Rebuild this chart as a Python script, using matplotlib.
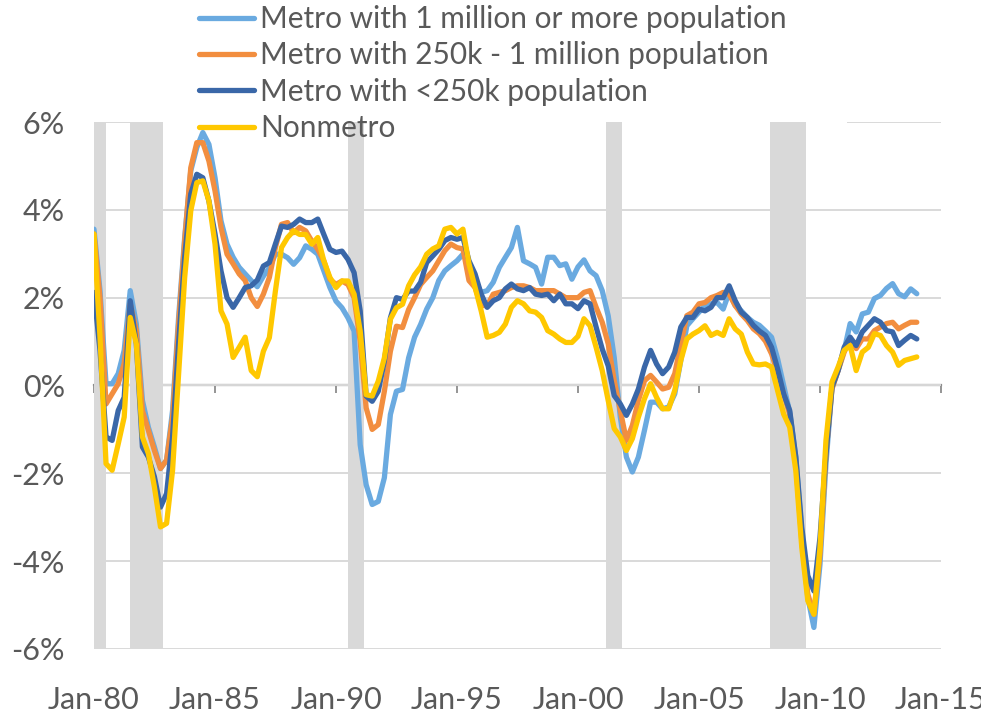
import numpy as np
import pandas as pd
import matplotlib
matplotlib.use('Agg')
import matplotlib.pyplot as plt
import matplotlib.dates as mdates
from matplotlib.patches import Rectangle
from matplotlib.ticker import FuncFormatter

# quarterly observations, Jan-1980 .. Jan-2014 (% change, year over year)
dates = pd.date_range('1980-01-01', '2014-01-01', freq='QS')

metro_large = [
    3.56, 2.16, 0.04, 0.04, 0.27, 0.8, 2.16, 1.4, -0.34, -0.95, -1.4, -1.89,
    -1.7, -0.57, 1.55, 3.37, 4.89, 5.42, 5.76, 5.49, 4.73, 3.75, 3.22, 2.92,
    2.69, 2.54, 2.39, 2.25, 2.49, 2.68, 2.99, 2.99, 2.91, 2.76, 2.91, 3.18,
    3.1, 2.99, 2.61, 2.23, 1.92, 1.77, 1.54, 1.24, -1.35, -2.26, -2.71, -2.64,
    -2.1, -0.66, -0.13, -0.09, 0.63, 1.1, 1.39, 1.74, 2.0, 2.39, 2.61, 2.73,
    2.84, 2.99, 2.77, 2.39, 2.12, 2.16, 2.35, 2.69, 2.92, 3.14, 3.6, 2.84,
    2.77, 2.69, 2.31, 2.92, 2.92, 2.73, 2.77, 2.42, 2.7, 2.86, 2.61, 2.5,
    2.16, 1.59, 0.64, -0.72, -1.63, -1.97, -1.63, -1.02, -0.38, -0.38, -0.53, -0.49,
    -0.19, 0.57, 1.36, 1.52, 1.67, 1.82, 1.86, 1.89, 1.74, 2.12, 1.82, 1.7,
    1.55, 1.44, 1.37, 1.24, 1.1, 0.61, 0.0, -0.61, -1.63, -3.38, -4.83, -5.51,
    -4.07, -1.79, -0.04, 0.34, 0.8, 1.41, 1.22, 1.63, 1.67, 1.98, 2.05, 2.21,
    2.32, 2.09, 2.02, 2.2, 2.09]

metro_mid = [
    3.45, 2.0, -0.42, -0.19, 0.04, 0.5, 1.86, 1.25, -0.57, -1.02, -1.48, -1.89,
    -1.7, -0.72, 1.4, 3.3, 4.96, 5.53, 5.53, 5.11, 4.43, 3.6, 2.99, 2.77,
    2.54, 2.39, 2.0, 1.8, 2.08, 2.46, 3.14, 3.67, 3.71, 3.48, 3.6, 3.52,
    3.29, 3.1, 2.84, 2.42, 2.3, 2.38, 2.3, 2.0, 1.01, -0.51, -1.0, -0.89,
    -0.13, 0.78, 1.35, 1.32, 1.73, 2.0, 2.3, 2.46, 2.61, 2.84, 3.07, 3.22,
    3.14, 3.11, 2.39, 2.23, 1.82, 1.82, 2.08, 2.12, 2.16, 2.23, 2.27, 2.27,
    2.23, 2.16, 2.16, 2.16, 2.16, 2.08, 2.0, 2.0, 2.0, 2.12, 2.16, 1.78,
    1.44, 0.95, 0.11, -0.57, -1.25, -0.91, -0.34, 0.11, 0.23, 0.08, -0.08, -0.04,
    0.27, 0.95, 1.59, 1.67, 1.86, 1.89, 2.0, 2.05, 2.12, 2.08, 1.82, 1.63,
    1.48, 1.29, 1.18, 1.01, 0.72, 0.3, -0.19, -0.65, -1.75, -3.54, -4.75, -5.21,
    -3.84, -1.56, -0.08, 0.34, 0.76, 1.06, 0.84, 1.06, 1.06, 1.25, 1.33, 1.41,
    1.44, 1.29, 1.37, 1.44, 1.44]

metro_small = [
    2.12, 0.8, -1.17, -1.25, -0.57, -0.27, 1.93, 0.95, -1.4, -1.63, -2.08, -2.77,
    -2.46, -1.17, 0.95, 2.92, 4.36, 4.81, 4.73, 4.2, 3.45, 2.61, 2.0, 1.78,
    2.0, 2.23, 2.27, 2.4, 2.72, 2.8, 3.22, 3.63, 3.6, 3.67, 3.79, 3.71,
    3.71, 3.79, 3.44, 3.1, 3.03, 3.06, 2.87, 2.57, 1.7, -0.24, -0.36, -0.13,
    0.56, 1.54, 2.0, 1.96, 2.15, 2.15, 2.35, 2.8, 2.95, 3.1, 3.3, 3.37,
    3.33, 3.37, 2.84, 2.54, 2.08, 1.78, 1.93, 2.0, 2.2, 2.31, 2.2, 2.16,
    2.23, 2.08, 2.05, 2.08, 1.93, 2.08, 1.86, 1.86, 1.75, 1.93, 1.86, 1.33,
    0.83, 0.45, -0.23, -0.42, -0.68, -0.42, -0.08, 0.42, 0.8, 0.49, 0.27, 0.42,
    0.76, 1.33, 1.55, 1.55, 1.74, 1.7, 1.78, 2.0, 2.0, 2.27, 1.93, 1.67,
    1.55, 1.37, 1.24, 1.14, 0.87, 0.38, -0.19, -0.57, -1.63, -3.23, -4.33, -4.68,
    -3.46, -1.56, -0.04, 0.34, 0.87, 1.1, 0.91, 1.22, 1.37, 1.52, 1.44, 1.25,
    1.22, 0.91, 1.03, 1.14, 1.06]

nonmetro = [
    3.45, 1.1, -1.78, -1.93, -1.33, -0.72, 1.55, 0.95, -1.17, -1.55, -2.31, -3.22,
    -3.14, -1.93, 0.27, 2.46, 3.98, 4.62, 4.66, 4.2, 3.22, 1.7, 1.4, 0.64,
    0.87, 1.1, 0.34, 0.2, 0.78, 1.09, 2.15, 3.14, 3.37, 3.52, 3.44, 3.44,
    3.22, 3.37, 2.84, 2.46, 2.23, 2.38, 2.38, 2.08, 1.24, -0.21, -0.24, 0.1,
    0.63, 1.51, 1.77, 1.85, 2.27, 2.52, 2.7, 2.99, 3.11, 3.18, 3.56, 3.6,
    3.45, 3.56, 2.77, 2.23, 1.7, 1.1, 1.14, 1.21, 1.4, 1.78, 1.93, 1.86,
    1.7, 1.67, 1.55, 1.25, 1.17, 1.06, 0.98, 0.98, 1.12, 1.52, 1.36, 0.87,
    0.34, -0.34, -0.98, -1.17, -1.48, -1.21, -0.72, -0.3, 0.04, -0.27, -0.53, -0.53,
    -0.11, 0.57, 1.06, 1.17, 1.25, 1.36, 1.14, 1.21, 1.14, 1.52, 1.29, 1.17,
    0.76, 0.49, 0.47, 0.49, 0.42, -0.11, -0.65, -0.95, -1.94, -3.69, -4.9, -5.21,
    -3.69, -1.25, 0.08, 0.42, 0.8, 0.91, 0.34, 0.76, 0.87, 1.18, 1.14, 0.91,
    0.76, 0.46, 0.57, 0.61, 0.65]

labels = ['Metro with 1 million or more population',
          'Metro with 250k - 1 million population',
          'Metro with <250k population',
          'Nonmetro']
colors = ['#6aaae0', '#f28e3f', '#3a67a8', '#ffc800']

recessions = [('1980-01-01', '1980-07-01'), ('1981-07-01', '1982-11-01'),
              ('1990-07-01', '1991-03-01'), ('2001-03-01', '2001-11-01'),
              ('2007-12-01', '2009-06-01')]

txt = '#595959'
plt.rcParams['font.family'] = ['Lato', 'DejaVu Sans']

fig = plt.figure(figsize=(9.81, 7.16), dpi=100)
ax = fig.add_axes([0.0958, 0.0936, 0.8634, 0.736])

for start, end in recessions:
    ax.axvspan(pd.Timestamp(start), pd.Timestamp(end), color='#d9d9d9', lw=0, zorder=1)

series = [metro_large, metro_mid, metro_small, nonmetro]
for vals, lab, col in zip(series, labels, colors):
    ax.plot(dates, vals, color=col, lw=3.8, label=lab, zorder=2,
            solid_joinstyle='round', solid_capstyle='round')

ax.set_xlim(pd.Timestamp('1980-01-01'), pd.Timestamp('2015-01-01'))
ax.set_ylim(-6, 6)
ax.set_yticks(np.arange(-6, 7, 2))
ax.yaxis.set_major_formatter(FuncFormatter(lambda v, p: f'{v:.0f}%'))
xt = [pd.Timestamp(f'{y}-01-01') for y in range(1980, 2016, 5)]
ax.set_xticks(xt)
ax.xaxis.set_major_formatter(mdates.DateFormatter('%b-%y'))

ax.set_axisbelow(True)
ax.yaxis.grid(True, color='#d9d9d9', lw=1.4)
for s in ax.spines.values():
    s.set_visible(False)
ax.tick_params(axis='x', length=0, pad=27, labelsize=22, labelcolor=txt)
ax.tick_params(axis='y', length=0, pad=21, labelsize=22, labelcolor=txt)

# the legend area blanks the top gridline (but not the recession bars)
ax.add_patch(Rectangle((0.045, 0.985), 0.844, 0.03, transform=ax.transAxes,
                       facecolor='white', lw=0, zorder=0.8, clip_on=False))

# horizontal axis line with tick marks at 0%
sec = ax.secondary_xaxis(0.5)
sec.set_alignment('bottom')
sec.set_xticks(xt)
sec.tick_params(axis='x', length=6, width=1.3, color='#8c8c8c', direction='out',
                labelbottom=False, labeltop=False)
sec.spines['bottom'].set_color('#8c8c8c')
sec.spines['bottom'].set_linewidth(1.6)

leg = ax.legend(loc='upper left', bbox_to_anchor=(0.2, 0.997),
                bbox_transform=fig.transFigure, frameon=False, fontsize=21.5,
                handlelength=1.85, handletextpad=0.2, labelspacing=0.28,
                borderpad=0.1, borderaxespad=0)
leg.set_zorder(1.5)
for t in leg.get_texts():
    t.set_color(txt)
for h in leg.get_lines():
    h.set_linewidth(3.8)

fig.savefig('out.png', dpi=100)
